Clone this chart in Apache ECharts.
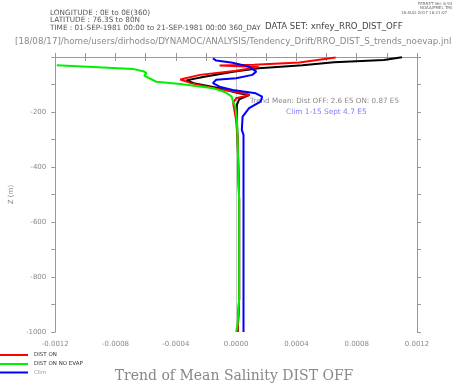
<!DOCTYPE html>
<html><head><meta charset="utf-8">
<script src="https://cdn.jsdelivr.net/npm/echarts@6/dist/echarts.min.js"></script>
<style>html,body{margin:0;padding:0;background:#fff}#c{width:452px;height:384px}</style>
</head><body><div id="c"></div>
<script>
// Data (value = salinity trend, depth in m)
const distOffDepth = [-1, -11, -19, -30, -41, -54, -73, -85, -95, -113, -132, -138, -154, -174, -229, -300, -520, -880, -1000];
const distOffValue = [0.00110, 0.00098, 0.00065, 0.00044, 0.00015, -0.00002, -0.00022, -0.00033, -0.00028, -0.00012, 0.00002, 0.00009, 0.00002, 0.000005, 0.000005, 0.00001, 0.00002, 0.00002, 0.00001];

const distOnDepth = [-2, -20, -28, -31, -36, -50, -65, -82, -95, -115, -132, -138, -150, -167, -229, -300, -520, -880, -1000];
const distOnValue = [0.00066, 0.00042, 0.00012, -0.00011, 0.00015, 0.00000, -0.00024, -0.00037, -0.00030, -0.00013, 0.00005, 0.00009, 0.00000, -0.00002, 0.0, 0.00001, 0.00002, 0.00002, 0.00001];

const noEvapDepth = [-30, -44, -53, -59, -68, -90, -98, -114, -128, -144, -162, -180, -229, -300, -520, -880, -970, -1000];
const noEvapValue = [-0.00119, -0.00068, -0.00061, -0.000595, -0.00061, -0.00053, -0.00037, -0.00015, -0.00007, -0.00003, -0.00002, -0.000005, 0.000005, 0.00001, 0.00002, 0.00002, 0.00001, 0.0];

const climDepth = [-5, -13, -21, -35, -53, -65, -77, -83, -95, -108, -120, -132, -144, -162, -186, -217, -265, -283, -1000];
const climValue = [-0.000154, -0.000132, -0.000023, 0.000086, 0.000134, 0.000108, 0.0, -0.000132, -0.000154, -0.00011, -0.000023, 0.00013, 0.000173, 0.000162, 0.000086, 0.000043, 0.000038, 0.000049, 0.000049];

const legendNames = ['DIST ON', 'DIST ON NO EVAP', 'Clim'];
const titleText = 'Trend of Mean Salinity DIST OFF';

function pairs(v, d) { return v.map((x, i) => [x, d[i]]); }

const chart = echarts.init(document.getElementById('c'), null, {renderer: 'canvas'});
const AX = '#999';
const LBL = '#8a8a8a';
const GREEN = '#00f000';
const xFmt = v => { const k = Math.round(v / 0.0002); return (k % 2 === 0) ? (k * 0.0002).toFixed(4) : ''; };
const yFmt = v => { const k = Math.round(v / 100); return (k % 2 === 0 && k !== 0) ? String(k * 100) : ''; };
const sans = '"DejaVu Sans", sans-serif';

const baseX = {
  type: 'value', min: -0.0012, max: 0.0012, interval: 0.0002,
  axisLine: {show: true, lineStyle: {color: AX, width: 1}},
  axisTick: {show: true, length: 4, lineStyle: {color: AX}},
  splitLine: {show: false}
};
const baseY = {
  type: 'value', min: -1000, max: 0, interval: 100,
  axisLine: {show: true, onZero: false, lineStyle: {color: AX, width: 1}},
  axisTick: {show: true, length: 4, lineStyle: {color: AX}},
  splitLine: {show: false}
};

function lineSeries(name, data, color, z, extra) {
  return Object.assign({
    name: name, type: 'line', data: data, showSymbol: false, symbol: 'none',
    lineStyle: {color: color, width: 2}, itemStyle: {color: color},
    animation: false, clip: true, z: z
  }, extra || {});
}

chart.setOption({
  animation: false,
  grid: {left: 50, right: 35, top: 57, bottom: 52},
  xAxis: [
    Object.assign({}, baseX, {position: 'bottom', axisLabel: {show: true, formatter: xFmt, color: LBL, fontSize: 7, fontFamily: sans, margin: 9, showMinLabel: true, showMaxLabel: true}}),
    Object.assign({}, baseX, {position: 'top', axisLabel: {show: false}})
  ],
  yAxis: [
    Object.assign({}, baseY, {position: 'left', name: 'Z (m)', nameLocation: 'middle', nameGap: 38, nameRotate: 90,
      nameTextStyle: {color: LBL, fontSize: 7, fontFamily: sans},
      axisLabel: {show: true, formatter: yFmt, color: LBL, fontSize: 7, fontFamily: sans, margin: 9}}),
    Object.assign({}, baseY, {position: 'right', axisLabel: {show: false}})
  ],
  series: [
    lineSeries('DIST OFF', pairs(distOffValue, distOffDepth), '#000000', 3, {
      markLine: {silent: true, symbol: 'none', label: {show: false}, animation: false, z: 1,
        lineStyle: {color: '#c8c8c8', width: 1, type: 'solid'}, data: [{xAxis: 0}]}
    }),
    lineSeries(legendNames[0], pairs(distOnValue, distOnDepth), '#ff0000', 4),
    lineSeries(legendNames[1], pairs(noEvapValue, noEvapDepth), GREEN, 5),
    lineSeries(legendNames[2], pairs(climValue, climDepth), '#0000ff', 6)
  ],
  graphic: [
    {type: 'text', x: 418, y: 4, z: 0, style: {text: 'FERRET Ver. 6.93', fill: '#666', font: '4px ' + sans, textVerticalAlign: 'middle'}},
    {type: 'text', x: 420, y: 8, z: 0, style: {text: 'NOAA/PMEL TMAP', fill: '#666', font: '4px ' + sans, textVerticalAlign: 'middle'}},
    {type: 'text', x: 401, y: 12.5, z: 0, style: {text: '18-AUG-2017 18:21:07', fill: '#666', font: '4px ' + sans, textVerticalAlign: 'middle'}},
    {type: 'text', x: 50, y: 13, z: 0, style: {text: 'LONGITUDE : 0E to 0E(360)', fill: '#555', font: '7.3px ' + sans, textVerticalAlign: 'middle'}},
    {type: 'text', x: 50, y: 20.5, z: 0, style: {text: 'LATITUDE : 76.3S to 80N', fill: '#555', font: '7.3px ' + sans, textVerticalAlign: 'middle'}},
    {type: 'text', x: 50, y: 28, z: 0, style: {text: 'TIME : 01-SEP-1981 00:00 to 21-SEP-1981 00:00 360_DAY', fill: '#555', font: '7.3px ' + sans, textVerticalAlign: 'middle'}},
    {type: 'text', x: 265, y: 27, z: 0, style: {text: 'DATA SET: xnfey_RRO_DIST_OFF', fill: '#444', font: '8.6px ' + sans, textVerticalAlign: 'middle'}},
    {type: 'text', x: 15, y: 42, z: 0, style: {text: '[18/08/17]/home/users/dirhodso/DYNAMOC/ANALYSIS/Tendency_Drift/RRO_DIST_S_trends_noevap.jnl', fill: '#888', font: '8.7px ' + sans, textVerticalAlign: 'middle'}},
    {type: 'text', x: 250, y: 101, z: 0, style: {text: 'Trend Mean: Dist OFF: 2.6 E5 ON: 0.87 E5', fill: '#888', font: '7.2px ' + sans, textVerticalAlign: 'middle'}},
    {type: 'text', x: 286, y: 112.5, z: 0, style: {text: 'Clim 1-15 Sept 4.7 E5', fill: '#8080ff', font: '7.4px ' + sans, textVerticalAlign: 'middle'}},
    {type: 'line', shape: {x1: 0, y1: 355, x2: 28, y2: 355}, style: {stroke: '#ff0000', lineWidth: 2}},
    {type: 'line', shape: {x1: 0, y1: 364, x2: 28, y2: 364}, style: {stroke: GREEN, lineWidth: 2}},
    {type: 'line', shape: {x1: 0, y1: 372.5, x2: 28, y2: 372.5}, style: {stroke: '#0000ff', lineWidth: 2}},
    {type: 'text', x: 34, y: 355, style: {text: legendNames[0], fill: '#333', font: '5.5px ' + sans, textVerticalAlign: 'middle'}},
    {type: 'text', x: 34, y: 364, style: {text: legendNames[1], fill: '#333', font: '5.5px ' + sans, textVerticalAlign: 'middle'}},
    {type: 'text', x: 34, y: 372.5, style: {text: legendNames[2], fill: '#999', font: '5.5px ' + sans, textVerticalAlign: 'middle'}},
    {type: 'text', x: 234, y: 376, style: {text: titleText, fill: '#888', font: '14px "DejaVu Serif", serif', textAlign: 'center', textVerticalAlign: 'middle'}}
  ]
});
</script>
</body></html>
